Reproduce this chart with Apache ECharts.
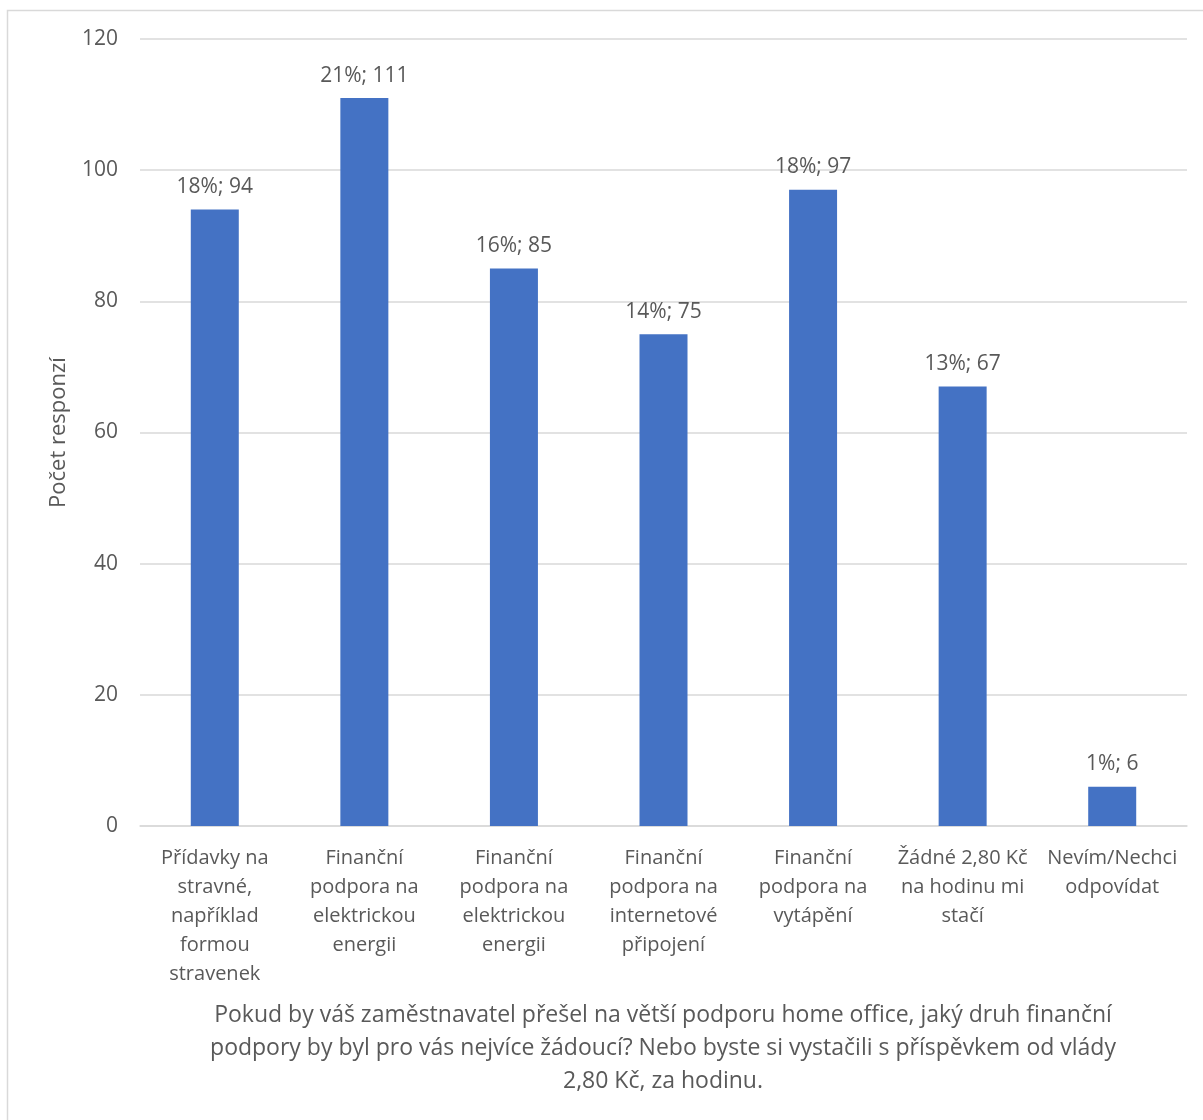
<!DOCTYPE html>
<html>
<head>
<meta charset="utf-8">
<script src="https://cdn.jsdelivr.net/npm/echarts@6/dist/echarts.min.js"></script>
<style>
  html, body { margin: 0; padding: 0; background: #fff; }
  #chart { width: 1203px; height: 1120px; }
</style>
</head>
<body>
<div id="chart"></div>
<script>
// Answer options (line breaks as shown under the axis)
const categories = [
  'Přídavky na\nstravné,\nnapříklad\nformou\nstravenek',
  'Finanční\npodpora na\nelektrickou\nenergii',
  'Finanční\npodpora na\nelektrickou\nenergii',
  'Finanční\npodpora na\ninternetové\npřipojení',
  'Finanční\npodpora na\nvytápění',
  'Žádné 2,80 Kč\nna hodinu mi\nstačí',
  'Nevím/Nechci\nodpovídat'
];
// Number of responses per option
const responses = [94, 111, 85, 75, 97, 67, 6];
// Share of all responses, in percent
const shares = [18, 21, 16, 14, 18, 13, 1];
// Value axis ticks
const yTicks = [0, 20, 40, 60, 80, 100, 120];

const yAxisTitle = 'Počet responzí';
const xAxisTitle = 'Pokud by váš zaměstnavatel přešel na větší podporu home office, jaký druh finanční\npodpory by byl pro vás nejvíce žádoucí? Nebo byste si vystačili s příspěvkem od vlády\n2,80 Kč, za hodinu.';

const FONT = 'Open Sans';
const TEXT = '#595959';
const GRID = '#d9d9d9';

const chart = echarts.init(document.getElementById('chart'), null, { renderer: 'canvas' });
chart.setOption({
  backgroundColor: '#fff',
  animation: false,
  textStyle: { fontFamily: FONT },
  grid: { left: 140, right: 16, top: 39, bottom: 294, containLabel: false },
  graphic: [
    {
      type: 'rect',
      shape: { x: 7.5, y: 10.5, width: 1200, height: 1120 },
      style: { fill: 'none', stroke: GRID, lineWidth: 1.5 },
      silent: true
    },
    {
      type: 'text',
      x: 663,
      y: 999,
      style: {
        text: xAxisTitle,
        fill: TEXT,
        fontSize: 23,
        fontFamily: FONT,
        align: 'center',
        verticalAlign: 'top',
        lineHeight: 33
      }
    }
  ],
  xAxis: {
    type: 'category',
    data: categories,
    axisLine: { show: true, lineStyle: { color: GRID, width: 1.5 } },
    axisTick: { show: false },
    axisLabel: {
      interval: 0,
      color: TEXT,
      fontSize: 20,
      lineHeight: 29,
      margin: 18,
      fontFamily: FONT
    }
  },
  yAxis: {
    type: 'value',
    min: yTicks[0],
    max: yTicks[yTicks.length - 1],
    interval: yTicks[1] - yTicks[0],
    name: yAxisTitle,
    nameLocation: 'middle',
    nameRotate: 90,
    nameGap: 70,
    nameTextStyle: { color: TEXT, fontSize: 22, fontFamily: FONT },
    axisLine: { show: false },
    axisTick: { show: false },
    splitLine: { lineStyle: { color: GRID, width: 1.5 } },
    axisLabel: { color: TEXT, fontSize: 21, margin: 22, fontFamily: FONT }
  },
  series: [{
    type: 'bar',
    data: responses,
    barWidth: 48,
    itemStyle: { color: '#4472C4' },
    label: {
      show: true,
      position: 'top',
      distance: 12,
      color: TEXT,
      fontSize: 21,
      fontFamily: FONT,
      formatter: p => shares[p.dataIndex] + '%; ' + p.value
    }
  }]
});
</script>
</body>
</html>
